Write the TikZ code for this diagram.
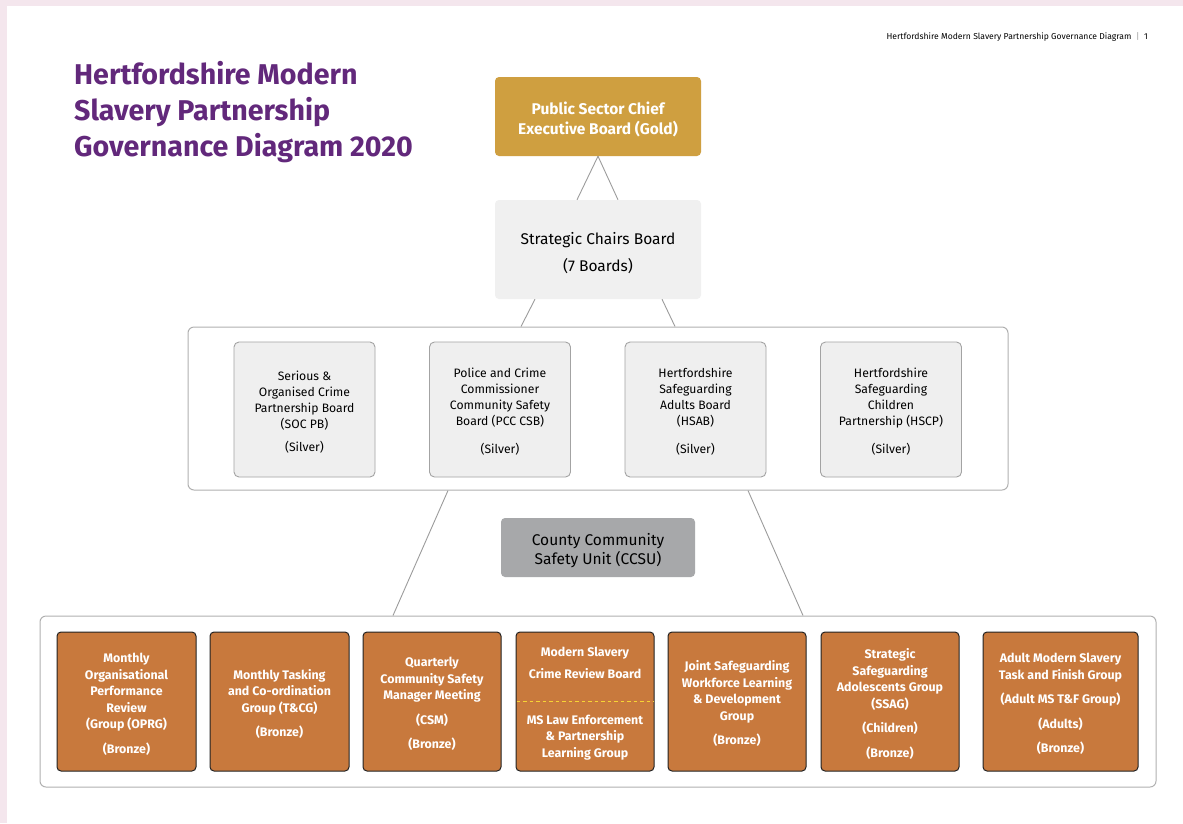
\documentclass[tikz,border=0pt]{standalone}
\usepackage{fontspec}
\setmainfont{Fira Sans}
\usetikzlibrary{calc}
\definecolor{pagepink}{HTML}{F4E6ED}
\definecolor{titlepurple}{HTML}{62287B}
\definecolor{goldfill}{HTML}{CF9F40}
\definecolor{stratfill}{HTML}{F0F0F0}
\definecolor{silverfill}{HTML}{EFEFEF}
\definecolor{silverline}{HTML}{A3A3A3}
\definecolor{ccsufill}{HTML}{A7A8AA}
\definecolor{bronzefill}{HTML}{C8793D}
\definecolor{bronzeline}{HTML}{222222}
\definecolor{holderline}{HTML}{B0B0B0}
\definecolor{linkgray}{HTML}{9C9C9C}
\definecolor{dashyellow}{HTML}{F7D434}
\newcommand{\lowstart}{\rule{0pt}{1.2em}}

\tikzset{
	holder/.style={draw=holderline, fill=white, rounded corners=6pt, line width=1pt, inner sep=0pt},
	silverbox/.style={draw=silverline, fill=silverfill, rounded corners=5pt, line width=0.9pt, inner sep=0pt,
		minimum width=141pt, minimum height=135pt, align=center, font=\fontsize{12.2}{16}\selectfont},
	bronzebox/.style={draw=bronzeline, fill=bronzefill, rounded corners=4pt, line width=1pt, inner sep=0pt,
		minimum width=139pt, minimum height=139pt, align=center, text=white,
		font=\bfseries\fontsize{12.4}{16.5}\selectfont},
	bronzetext/.style={inner sep=0pt, align=center, text=white, font=\bfseries\fontsize{12.4}{16.5}\selectfont},
	link/.style={draw=linkgray, line width=0.9pt},
}

\begin{document}
\begin{tikzpicture}[x=1pt, y=-1pt]
	%%%%% PAGE %%%%%
	\useasboundingbox (0,0) rectangle (1183,823);
	\fill[pagepink] (0,0) rectangle (1183,823);
	\fill[white] (7,6) rectangle (1183,823);
	
	\node[anchor=base east, inner sep=0pt, font=\fontsize{8.6}{10}\selectfont] (header) at (1148,39)
		{Hertfordshire Modern Slavery Partnership Governance Diagram \ {\color{linkgray}|} \ 1};
	
	\node[anchor=north west, inner sep=0pt, align=left, text=titlepurple,
		font=\bfseries\fontsize{28.6}{36}\selectfont] (title) at (74,61)
		{Hertfordshire Modern\\Slavery Partnership\\Governance Diagram 2020};
	
	%%%%% GOLD AND CHAIRS %%%%%
	\node[fill=goldfill, rounded corners=4pt, minimum width=206pt, minimum height=79pt, align=center,
		text=white, font=\bfseries\fontsize{15.5}{20}\selectfont] (gold) at (598,116.5)
		{\lowstart Public Sector Chief\\Executive Board (Gold)};
	
	\node[fill=stratfill, rounded corners=4pt, minimum width=206pt, minimum height=99pt, align=center,
		font=\fontsize{15.5}{27}\selectfont] (chairs) at (598,249.5)
		{\lowstart Strategic Chairs Board\\(7 Boards)};
	
	\draw[link] (gold.south) -- ($(chairs.north)+(-21,0)$);
	\draw[link] (gold.south) -- ($(chairs.north)+(20,0)$);
	
	%%%%% SILVER %%%%%
	\node[holder, minimum width=820pt, minimum height=163pt] (silvers) at (598,408.5) {};
	
	\draw[link] ($(chairs.south)+(-63,0)$) -- ($(silvers.north)+(-77,0)$);
	\draw[link] ($(chairs.south)+(64,0)$) -- ($(silvers.north)+(77,0)$);
	
	\node[silverbox] (soc) at (304.5,409.5)
		{\lowstart Serious \&\\Organised Crime\\Partnership Board\\(SOC PB)\\[7pt](Silver)};
	\node[silverbox] (pcc) at (500,409.5)
		{\lowstart Police and Crime\\Commissioner\\Community Safety\\Board (PCC CSB)\\[12pt](Silver)};
	\node[silverbox] (hsab) at (695.5,409.5)
		{\lowstart Hertfordshire\\Safeguarding\\Adults Board\\(HSAB)\\[12pt](Silver)};
	\node[silverbox] (hscp) at (891,409.5)
		{\lowstart Hertfordshire\\Safeguarding\\Children\\Partnership (HSCP)\\[12pt](Silver)};
	
	%%%%% CCSU %%%%%
	\node[fill=ccsufill, rounded corners=4pt, minimum width=194pt, minimum height=59pt, align=center,
		font=\fontsize{15.5}{19}\selectfont] (ccsu) at (598,547.5)
		{\lowstart County Community\\Safety Unit (CCSU)};
	
	%%%%% BRONZE %%%%%
	\node[holder, minimum width=1116pt, minimum height=171pt] (bronzes) at (598,701.5) {};
	
	\draw[link] ($(silvers.south)+(-150,0)$) -- ($(bronzes.north)+(-205,0)$);
	\draw[link] ($(silvers.south)+(150,0)$) -- ($(bronzes.north)+(205,0)$);
	
	\node[bronzebox] (oprg) at (126.5,701.5)
		{\lowstart Monthly\\Organisational\\Performance\\Review\\(Group (OPRG)\\[8pt](Bronze)};
	\node[bronzebox] (tcg) at (279.5,701.5)
		{\lowstart Monthly Tasking\\and Co-ordination\\Group (T\&CG)\\[8pt](Bronze)};
	\node[bronzebox, minimum width=138pt] (csm) at (432,701.5)
		{\lowstart Quarterly\\Community Safety\\Manager Meeting\\[8pt](CSM)\\[8pt](Bronze)};
	\node[bronzebox, minimum width=138pt] (mscrb) at (585,701.5) {};
	\draw[dashyellow, line width=1.8pt, dash pattern=on 3.5pt off 3pt]
		($(mscrb.west)+(1,0)$) -- ($(mscrb.east)+(-1,0)$);
	\node[bronzetext] (mscrbtop) at (585,663) {Modern Slavery\\[5.5pt]Crime Review Board};
	\node[bronzetext] (mscrbbot) at (585,737.5) {MS Law Enforcement\\\& Partnership\\Learning Group};
	\node[bronzebox, minimum width=138pt] (jswld) at (737,701.5)
		{\lowstart Joint Safeguarding\\Workforce Learning\\\& Development\\Group\\[8pt](Bronze)};
	\node[bronzebox, minimum width=138pt] (ssag) at (890,701.5)
		{\lowstart Strategic\\Safeguarding\\Adolescents Group\\(SSAG)\\[8pt](Children)\\[8pt](Bronze)};
	\node[bronzebox, minimum width=155pt] (adultms) at (1060.5,701.5)
		{\lowstart Adult Modern Slavery\\Task and Finish Group\\[8pt](Adult MS T\&F Group)\\[8pt](Adults)\\[8pt](Bronze)};
\end{tikzpicture}
\end{document}
